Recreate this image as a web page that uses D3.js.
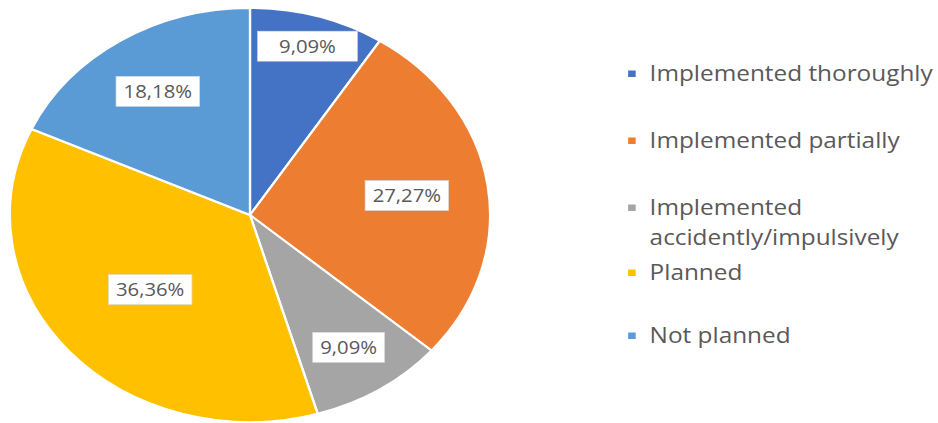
<!DOCTYPE html>
<html>
<head>
<meta charset="utf-8">
<script src="https://cdn.jsdelivr.net/npm/d3@7"></script>
<style>
  html, body { margin: 0; padding: 0; background: #fff; }
  svg { display: block; }
  text { font-family: "Open Sans", "DejaVu Sans", sans-serif; }
</style>
</head>
<body>
<svg id="chart" width="938" height="423"></svg>
<script>
// Share of measures by implementation status
const categories = [
  "Implemented thoroughly",
  "Implemented partially",
  "Implemented accidently/impulsively",
  "Planned",
  "Not planned"
];
const values = [9.09, 27.27, 9.09, 36.36, 18.18];
const valueLabels = ["9,09%", "27,27%", "9,09%", "36,36%", "18,18%"];
const legendLines = [
  ["Implemented thoroughly"],
  ["Implemented partially"],
  ["Implemented", "accidently/impulsively"],
  ["Planned"],
  ["Not planned"]
];
const colors = ["#4472C4", "#ED7D31", "#A5A5A5", "#FFC000", "#5B9BD5"];

// Layout (drawing is done in an unstretched frame, then widened horizontally)
const stretchX = 1.16;
const cx = 215.5, cy = 215, radius = 207;
const labelRadiusFrac = [0.85, 0.66, 0.76, 0.55, 0.71];
const labelBoxWidth = [86, 72, 62, 72, 72];
const labelBoxHeight = 30;
const legendX = 560;
const legendRowY = [73, 140, 207, 272, 335];
const legendLineHeight = 30;

const svg = d3.select("#chart");
const root = svg.append("g").attr("transform", `scale(${stretchX},1)`);

const pie = d3.pie().sort(null).value(d => d)(values);
const arc = d3.arc().innerRadius(0).outerRadius(radius);

const pieG = root.append("g").attr("transform", `translate(${cx},${cy})`);

pieG.selectAll("path.slice")
  .data(pie)
  .join("path")
  .attr("class", "slice")
  .attr("d", arc)
  .attr("fill", (d, i) => colors[i])
  .attr("stroke", "#fff")
  .attr("stroke-width", 2)
  .attr("stroke-linejoin", "round");

// Value labels in white boxes
const labelG = pieG.selectAll("g.lbl")
  .data(pie)
  .join("g")
  .attr("class", "lbl")
  .attr("transform", (d, i) => {
    const r = radius * labelRadiusFrac[i];
    const c = d3.arc().innerRadius(r).outerRadius(r).centroid(d);
    return `translate(${c[0]},${c[1]})`;
  });

labelG.append("rect")
  .attr("x", (d, i) => -labelBoxWidth[i] / 2)
  .attr("y", -labelBoxHeight / 2)
  .attr("width", (d, i) => labelBoxWidth[i])
  .attr("height", labelBoxHeight)
  .attr("fill", "#fff")
  .attr("stroke", "#d9d9d9")
  .attr("stroke-width", 0.6);

labelG.append("text")
  .attr("text-anchor", "middle")
  .attr("dominant-baseline", "central")
  .attr("font-size", 17.5)
  .attr("fill", "#595959")
  .text((d, i) => valueLabels[i]);

// Legend
const legG = root.append("g");
const items = legG.selectAll("g.item")
  .data(categories)
  .join("g")
  .attr("class", "item")
  .attr("transform", (d, i) => `translate(${legendX},${legendRowY[i]})`);

items.append("rect")
  .attr("x", -18.5)
  .attr("y", -2.5)
  .attr("width", 6.5)
  .attr("height", 6.5)
  .attr("fill", (d, i) => colors[i]);

items.each(function (d, i) {
  const t = d3.select(this).append("text")
    .attr("fill", "#595959")
    .attr("font-size", 21);
  legendLines[i].forEach((line, j) => {
    t.append("tspan")
      .attr("x", 0)
      .attr("y", j * legendLineHeight)
      .attr("dominant-baseline", "central")
      .text(line);
  });
});
</script>
</body>
</html>
